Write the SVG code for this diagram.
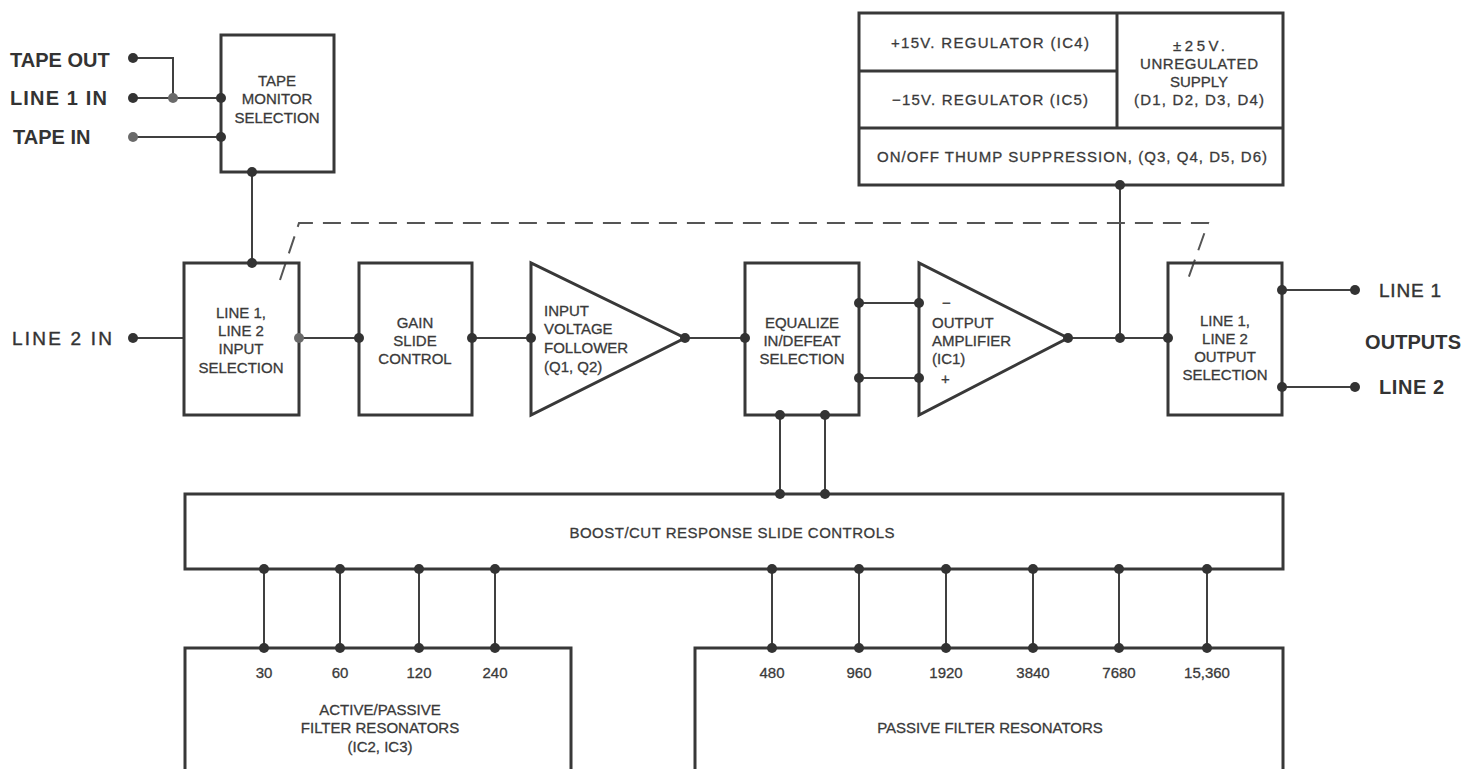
<svg xmlns="http://www.w3.org/2000/svg" width="1463" height="769" viewBox="0 0 1463 769">
<style>
.box{fill:none;stroke:#383838;stroke-width:3}
.ln{fill:none;stroke:#404040;stroke-width:2}
.dash{fill:none;stroke:#555;stroke-width:2;stroke-dasharray:18 10}
.dot{fill:#333}
.gdot{fill:#6a6a6a}
.t{font-family:"Liberation Sans",Arial,sans-serif;font-size:15px;fill:#3a3a3a;stroke:#3a3a3a;stroke-width:0.3;text-anchor:middle}
.tl{font-family:"Liberation Sans",Arial,sans-serif;font-size:15px;fill:#3a3a3a;stroke:#3a3a3a;stroke-width:0.3}
.big{font-family:"Liberation Sans",Arial,sans-serif;font-size:20px;font-weight:bold;fill:#333}
.bigr{font-family:"Liberation Sans",Arial,sans-serif;font-size:19px;fill:#333;stroke:#333;stroke-width:0.4}
</style>
<rect width="1463" height="769" fill="#fff"/>

<g id="connectors">
<polyline class="ln" points="133,58 173,58 173,98"/>
<line class="ln" x1="133" y1="98" x2="221" y2="98"/>
<line class="ln" x1="133" y1="137" x2="221" y2="137" stroke="#666"/>
<line class="ln" x1="252" y1="172" x2="252" y2="263"/>
<line class="ln" x1="133" y1="338" x2="184" y2="338"/>
<line class="ln" x1="299" y1="338" x2="359" y2="338"/>
<line class="ln" x1="472" y1="338" x2="531" y2="338"/>
<line class="ln" x1="685" y1="338" x2="745" y2="338"/>
<line class="ln" x1="859" y1="303" x2="919" y2="303"/>
<line class="ln" x1="859" y1="378" x2="919" y2="378"/>
<line class="ln" x1="1068" y1="338" x2="1168" y2="338"/>
<line class="ln" x1="1120" y1="338" x2="1120" y2="185"/>
<line class="ln" x1="1282" y1="290" x2="1355" y2="290"/>
<line class="ln" x1="1282" y1="387" x2="1355" y2="387"/>
<line class="ln" x1="780" y1="415" x2="780" y2="494"/>
<line class="ln" x1="825" y1="415" x2="825" y2="494"/>
<line class="ln" x1="264" y1="569" x2="264" y2="648"/>
<line class="ln" x1="340" y1="569" x2="340" y2="648"/>
<line class="ln" x1="419" y1="569" x2="419" y2="648"/>
<line class="ln" x1="495" y1="569" x2="495" y2="648"/>
<line class="ln" x1="772" y1="569" x2="772" y2="648"/>
<line class="ln" x1="859" y1="569" x2="859" y2="648"/>
<line class="ln" x1="946" y1="569" x2="946" y2="648"/>
<line class="ln" x1="1033" y1="569" x2="1033" y2="648"/>
<line class="ln" x1="1119" y1="569" x2="1119" y2="648"/>
<line class="ln" x1="1207" y1="569" x2="1207" y2="648"/>
<polyline class="dash" points="280,280 299,223 1208,223 1187,282"/>
</g>

<g id="labels-left">
<text class="big" x="10" y="67">TAPE OUT</text>
<text class="big" x="10" y="105" textLength="97" lengthAdjust="spacing">LINE 1 IN</text>
<text class="big" x="13" y="144">TAPE IN</text>
<text class="bigr" x="12" y="345" textLength="100" lengthAdjust="spacing">LINE 2 IN</text>
</g>

<g id="labels-right">
<text class="bigr" x="1379" y="297" textLength="62" lengthAdjust="spacing">LINE 1</text>
<text class="big" x="1365" y="349" textLength="96" lengthAdjust="spacing">OUTPUTS</text>
<text class="big" x="1379" y="394" textLength="65" lengthAdjust="spacing">LINE 2</text>
</g>

<g id="tape-monitor">
<rect class="box" x="221" y="35" width="113" height="137"/>
<text class="t" x="277" y="86">TAPE</text>
<text class="t" x="277" y="104">MONITOR</text>
<text class="t" x="277" y="123">SELECTION</text>
</g>

<g id="input-selection">
<rect class="box" x="184" y="263" width="115" height="152"/>
<text class="t" x="241" y="318">LINE 1,</text>
<text class="t" x="241" y="336">LINE 2</text>
<text class="t" x="241" y="354">INPUT</text>
<text class="t" x="241" y="373">SELECTION</text>
</g>

<g id="gain">
<rect class="box" x="359" y="263" width="113" height="152"/>
<text class="t" x="415" y="328">GAIN</text>
<text class="t" x="415" y="346">SLIDE</text>
<text class="t" x="415" y="364">CONTROL</text>
</g>

<g id="input-follower">
<polygon class="box" points="531,263 531,415 685,338"/>
<text class="tl" x="544" y="316">INPUT</text>
<text class="tl" x="544" y="334">VOLTAGE</text>
<text class="tl" x="544" y="353">FOLLOWER</text>
<text class="tl" x="544" y="372">(Q1, Q2)</text>
</g>

<g id="equalize">
<rect class="box" x="745" y="263" width="114" height="152"/>
<text class="t" x="802" y="328">EQUALIZE</text>
<text class="t" x="802" y="346">IN/DEFEAT</text>
<text class="t" x="802" y="364">SELECTION</text>
</g>

<g id="output-amp">
<polygon class="box" points="919,263 919,415 1068,338"/>
<text class="tl" x="942" y="308">−</text>
<text class="tl" x="932" y="328">OUTPUT</text>
<text class="tl" x="932" y="346">AMPLIFIER</text>
<text class="tl" x="932" y="364">(IC1)</text>
<text class="tl" x="941" y="384">+</text>
</g>

<g id="output-selection">
<rect class="box" x="1168" y="263" width="114" height="152"/>
<text class="t" x="1225" y="326">LINE 1,</text>
<text class="t" x="1225" y="344">LINE 2</text>
<text class="t" x="1225" y="362">OUTPUT</text>
<text class="t" x="1225" y="380">SELECTION</text>
</g>

<g id="power-supply">
<rect class="box" x="859" y="13" width="424" height="172"/>
<line class="box" x1="859" y1="71" x2="1117" y2="71"/>
<line class="box" x1="859" y1="128" x2="1283" y2="128"/>
<line class="box" x1="1117" y1="13" x2="1117" y2="128"/>
<text class="t" x="990" y="48" textLength="198" lengthAdjust="spacing">+15V. REGULATOR (IC4)</text>
<text class="t" x="990" y="105" textLength="196" lengthAdjust="spacing">−15V. REGULATOR (IC5)</text>
<text class="t" x="1199" y="51" textLength="52" lengthAdjust="spacing">±25V.</text>
<text class="t" x="1199" y="69" textLength="118" lengthAdjust="spacing">UNREGULATED</text>
<text class="t" x="1199" y="87">SUPPLY</text>
<text class="t" x="1199" y="105" textLength="130" lengthAdjust="spacing">(D1, D2, D3, D4)</text>
<text class="t" x="1072" y="162" textLength="390" lengthAdjust="spacing">ON/OFF THUMP SUPPRESSION, (Q3, Q4, D5, D6)</text>
</g>

<g id="boost-cut">
<rect class="box" x="185" y="494" width="1098" height="75"/>
<text class="t" x="732" y="538" textLength="325" lengthAdjust="spacing">BOOST/CUT RESPONSE SLIDE CONTROLS</text>
</g>

<g id="active-passive">
<rect class="box" x="185" y="648" width="386" height="135"/>
<text class="t" x="264" y="678">30</text>
<text class="t" x="340" y="678">60</text>
<text class="t" x="419" y="678">120</text>
<text class="t" x="495" y="678">240</text>
<text class="t" x="380" y="715">ACTIVE/PASSIVE</text>
<text class="t" x="380" y="733">FILTER RESONATORS</text>
<text class="t" x="380" y="752">(IC2, IC3)</text>
</g>

<g id="passive">
<rect class="box" x="695" y="648" width="588" height="135"/>
<text class="t" x="772" y="678">480</text>
<text class="t" x="859" y="678">960</text>
<text class="t" x="946" y="678">1920</text>
<text class="t" x="1033" y="678">3840</text>
<text class="t" x="1119" y="678">7680</text>
<text class="t" x="1207" y="678">15,360</text>
<text class="t" x="990" y="733">PASSIVE FILTER RESONATORS</text>
</g>

<g id="dots">
<circle class="dot" cx="133" cy="58" r="5"/>
<circle class="dot" cx="133" cy="98" r="5"/>
<circle class="gdot" cx="173" cy="98" r="5"/>
<circle class="dot" cx="221" cy="98" r="5"/>
<circle class="gdot" cx="133" cy="137" r="5"/>
<circle class="dot" cx="221" cy="137" r="5"/>
<circle class="dot" cx="252" cy="172" r="5"/>
<circle class="dot" cx="252" cy="263" r="5"/>
<circle class="dot" cx="133" cy="338" r="5"/>
<circle class="gdot" cx="299" cy="338" r="5"/>
<circle class="dot" cx="359" cy="338" r="5"/>
<circle class="dot" cx="472" cy="338" r="5"/>
<circle class="dot" cx="531" cy="338" r="5"/>
<circle class="dot" cx="685" cy="338" r="5"/>
<circle class="dot" cx="745" cy="338" r="5"/>
<circle class="dot" cx="859" cy="303" r="5"/>
<circle class="dot" cx="859" cy="378" r="5"/>
<circle class="dot" cx="919" cy="303" r="5"/>
<circle class="dot" cx="919" cy="378" r="5"/>
<circle class="dot" cx="1068" cy="338" r="5"/>
<circle class="dot" cx="1120" cy="338" r="5"/>
<circle class="dot" cx="1168" cy="338" r="5"/>
<circle class="dot" cx="1120" cy="185" r="5"/>
<circle class="dot" cx="1282" cy="290" r="5"/>
<circle class="dot" cx="1282" cy="387" r="5"/>
<circle class="dot" cx="1355" cy="290" r="5"/>
<circle class="dot" cx="1355" cy="387" r="5"/>
<circle class="dot" cx="780" cy="415" r="5"/>
<circle class="dot" cx="825" cy="415" r="5"/>
<circle class="dot" cx="780" cy="494" r="5"/>
<circle class="dot" cx="825" cy="494" r="5"/>
<circle class="dot" cx="264" cy="569" r="5"/>
<circle class="dot" cx="340" cy="569" r="5"/>
<circle class="dot" cx="419" cy="569" r="5"/>
<circle class="dot" cx="495" cy="569" r="5"/>
<circle class="dot" cx="772" cy="569" r="5"/>
<circle class="dot" cx="859" cy="569" r="5"/>
<circle class="dot" cx="946" cy="569" r="5"/>
<circle class="dot" cx="1033" cy="569" r="5"/>
<circle class="dot" cx="1119" cy="569" r="5"/>
<circle class="dot" cx="1207" cy="569" r="5"/>
<circle class="dot" cx="264" cy="648" r="5"/>
<circle class="dot" cx="340" cy="648" r="5"/>
<circle class="dot" cx="419" cy="648" r="5"/>
<circle class="dot" cx="495" cy="648" r="5"/>
<circle class="dot" cx="772" cy="648" r="5"/>
<circle class="dot" cx="859" cy="648" r="5"/>
<circle class="dot" cx="946" cy="648" r="5"/>
<circle class="dot" cx="1033" cy="648" r="5"/>
<circle class="dot" cx="1119" cy="648" r="5"/>
<circle class="dot" cx="1207" cy="648" r="5"/>
</g>
</svg>
